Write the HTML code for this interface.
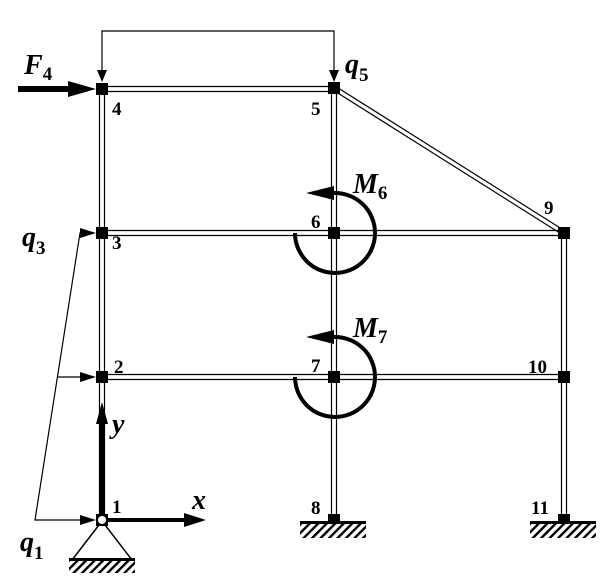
<!DOCTYPE html>
<html><head><style>body{margin:0;background:#fff}svg{display:block}
text{font-family:"Liberation Serif",serif;font-weight:bold;fill:#000}</style></head>
<body>
<svg width="612" height="582" viewBox="0 0 612 582" xmlns="http://www.w3.org/2000/svg">
<defs>
<pattern id="h" width="6" height="6" patternUnits="userSpaceOnUse" patternTransform="rotate(45)">
<rect width="2.4" height="6" fill="#000"/></pattern>
</defs>
<g stroke="#000" stroke-width="1.2" fill="none">
<line x1="99.5" y1="89" x2="99.5" y2="520"/><line x1="104.5" y1="89" x2="104.5" y2="520"/>
<line x1="331.5" y1="89" x2="331.5" y2="518"/><line x1="336.5" y1="89" x2="336.5" y2="518"/>
<line x1="561.5" y1="233" x2="561.5" y2="518"/><line x1="566.5" y1="233" x2="566.5" y2="518"/>
<line x1="102" y1="86.5" x2="334" y2="86.5"/><line x1="102" y1="91.5" x2="334" y2="91.5"/>
<line x1="102" y1="230.5" x2="564" y2="230.5"/><line x1="102" y1="235.5" x2="564" y2="235.5"/>
<line x1="102" y1="374.5" x2="564" y2="374.5"/><line x1="102" y1="379.5" x2="564" y2="379.5"/>
<line x1="335" y1="86" x2="565" y2="231"/><line x1="333" y1="90" x2="563" y2="235"/>
<polyline points="102,80 102,31 334,31 334,80"/>
<polyline points="92,520 35,520 80,233 92,233"/>
<line x1="57" y1="377" x2="92" y2="377"/>
</g>
<g fill="#000">
<polygon points="97,70 107,70 102,82"/><polygon points="329,70 339,70 334,82"/>
<polygon points="80,228 80,238 96,233"/><polygon points="80,372 80,382 96,377"/>
<polygon points="80,515 80,525 96,520"/>
<rect x="18" y="86" width="54" height="6"/><polygon points="68,81 68,97 96,89"/>
<rect x="96" y="83" width="12" height="12"/><rect x="328" y="82" width="12" height="12"/>
<rect x="96" y="227" width="12" height="12"/><rect x="328" y="227" width="12" height="12"/>
<rect x="558" y="227" width="12" height="12"/>
<rect x="96" y="371" width="12" height="12"/><rect x="328" y="371" width="12" height="12"/>
<rect x="558" y="371" width="12" height="12"/>
<rect x="328" y="514" width="12" height="8"/><rect x="558" y="514" width="12" height="8"/>
<rect x="100" y="420" width="4" height="94"/><polygon points="96,424 108,424 102,402"/>
<rect x="108" y="518" width="80" height="4"/><polygon points="184,513 184,527 206,520"/>
</g>
<g stroke="#000" stroke-width="1.5" fill="none"><polyline points="72,560 102,521 132,560"/></g>
<rect x="69" y="558" width="66" height="3" fill="#000"/>
<rect x="69" y="561" width="66" height="12" fill="url(#h)"/>
<rect x="96" y="514" width="12" height="12" fill="#000"/>
<circle cx="102" cy="520" r="4" fill="#fff"/>
<rect x="300" y="521" width="66" height="3" fill="#000"/><rect x="300" y="524" width="66" height="14" fill="url(#h)"/>
<rect x="530" y="521" width="66" height="3" fill="#000"/><rect x="530" y="524" width="66" height="14" fill="url(#h)"/>
<g stroke="#000" stroke-width="4" fill="none">
<path d="M334,193 A40,40 0 1 1 295,233"/>
<path d="M334,337 A40,40 0 1 1 295,377"/>
</g>
<g fill="#000"><polygon points="306,193 334,186 334,200"/><polygon points="306,337 334,330 334,344"/></g>
<g font-size="19">
<text x="112" y="115">4</text><text x="311" y="115">5</text>
<text x="112" y="249">3</text><text x="311" y="228">6</text><text x="544" y="214">9</text>
<text x="114" y="373">2</text><text x="311" y="372">7</text><text x="528" y="373">10</text>
<text x="112" y="513">1</text><text x="311" y="514">8</text><text x="531" y="514">11</text>
</g>
<g font-style="italic" font-size="28">
<text x="24" y="74">F<tspan font-size="19" font-style="normal" dy="6">4</tspan></text>
<text x="345" y="73">q<tspan font-size="19" font-style="normal" dy="8">5</tspan></text>
<text x="22" y="246">q<tspan font-size="19" font-style="normal" dy="8">3</tspan></text>
<text x="20" y="551">q<tspan font-size="19" font-style="normal" dy="8">1</tspan></text>
<text x="353" y="193">M<tspan font-size="19" font-style="normal" dy="6">6</tspan></text>
<text x="353" y="337">M<tspan font-size="19" font-style="normal" dy="6">7</tspan></text>
<text x="112" y="433">y</text><text x="192" y="509">x</text>
</g>
</svg>
</body></html>
